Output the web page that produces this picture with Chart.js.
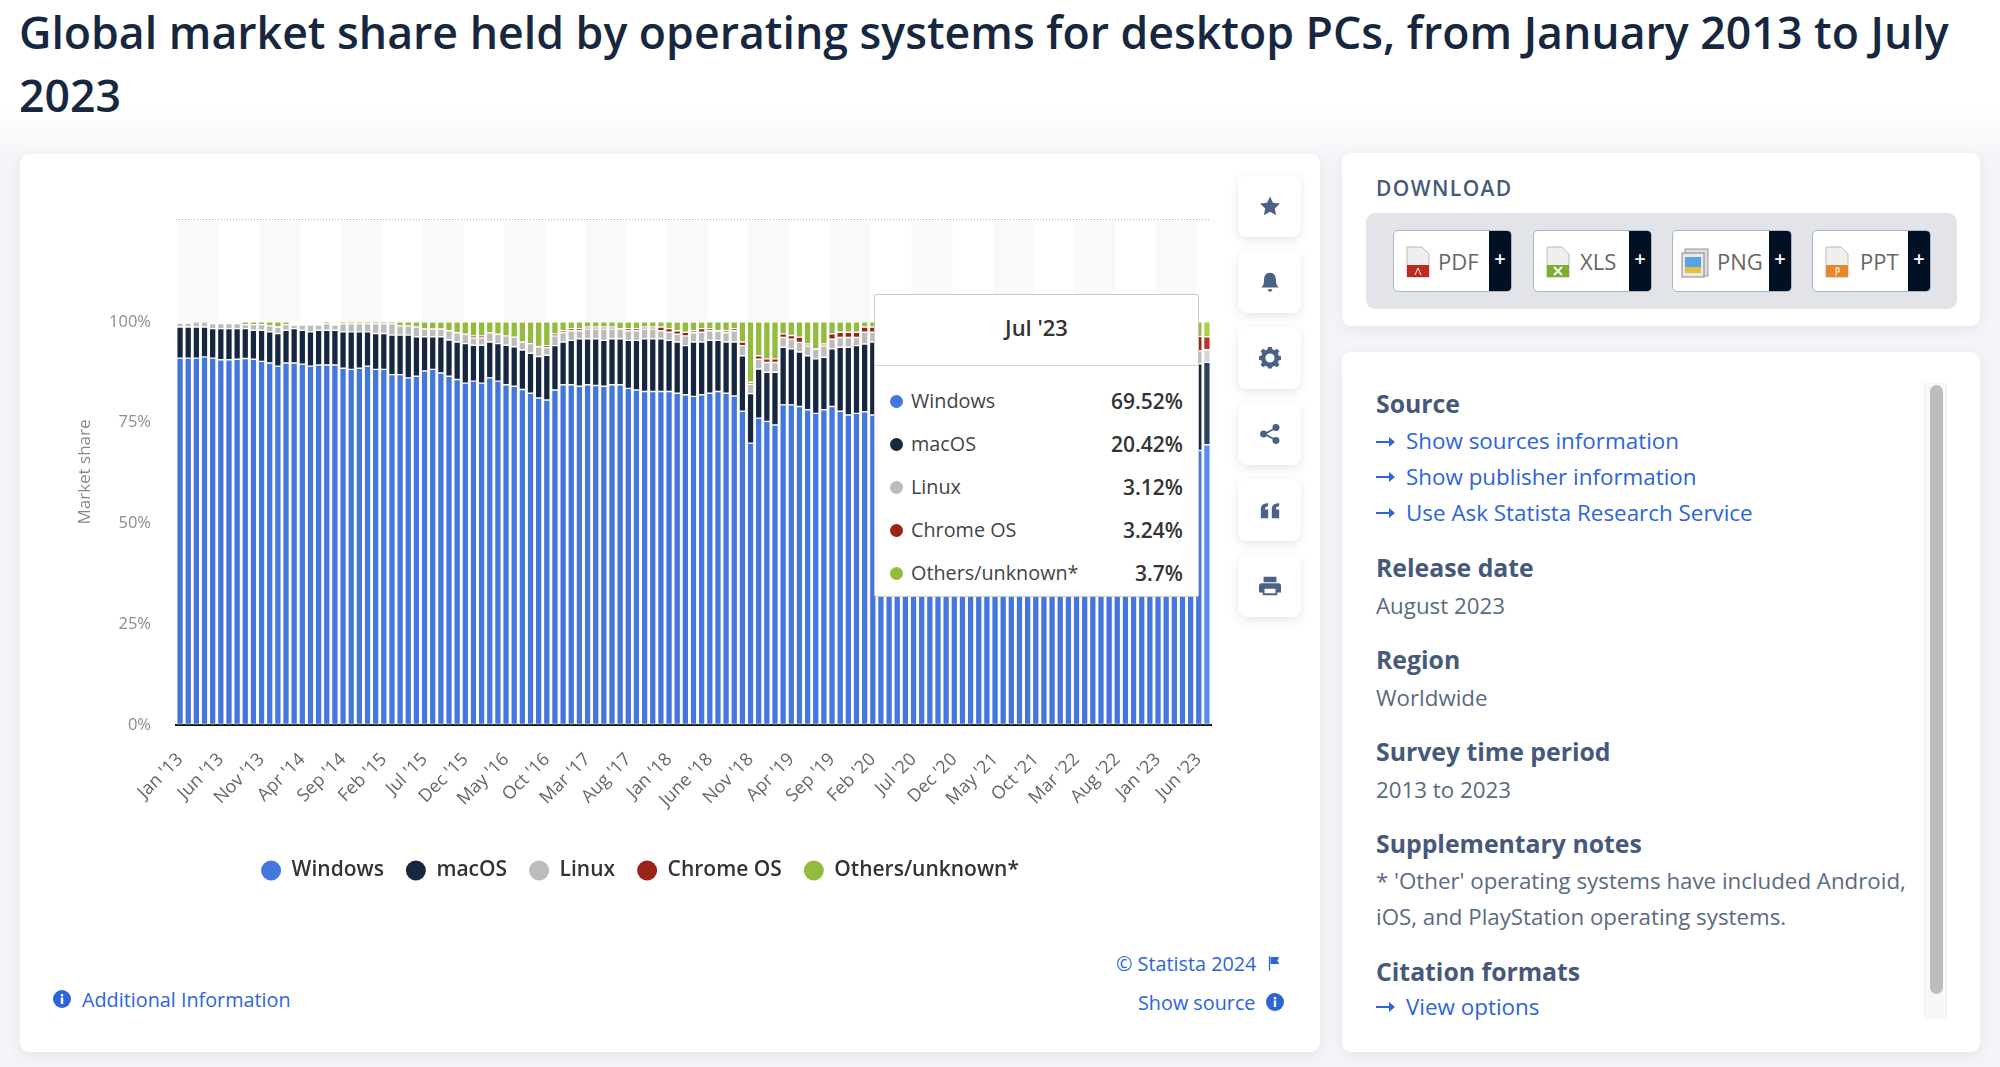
<!DOCTYPE html>
<html><head><meta charset="utf-8"><title>Desktop OS market share</title>
<script src="https://cdn.jsdelivr.net/npm/chart.js@4"></script>
<style>
*{box-sizing:border-box}
html,body{margin:0;padding:0;width:2000px;height:1067px;overflow:hidden;font-family:"Open Sans",sans-serif}
body{background:linear-gradient(#fff 0,#fff 105px,#f4f5f8 160px,#f4f5f8 100%);position:relative}
.abs{position:absolute}
h1{position:absolute;left:19px;margin:0;width:1970px;font-size:44.650px;line-height:62.500px;font-weight:600;color:#17273f;top:1px}
.card{position:absolute;background:#fff;border-radius:9px;box-shadow:0 4px 14px rgba(60,70,100,.08)}
.ib{position:absolute;left:1238px;width:63px;height:62px;background:#fff;border-radius:9px;box-shadow:0 3px 10px rgba(60,70,100,.13);display:flex;align-items:center;justify-content:center}
.ib svg{width:22px;height:22px;fill:#4a6285}
.t{position:absolute;white-space:nowrap;line-height:1}
.h{font-size:24.800px;font-weight:700;color:#46597a;left:1376px}
.b{font-size:22.300px;color:#5a6a82;left:1376px}
.l{font-size:22.400px;color:#2d64dc;left:1406px}
.ar{position:absolute;left:1376px;width:19px;height:12px}
.lk{font-size:19.800px;color:#2d64dc}
.btn{position:absolute;top:230px;height:62px;background:#fff;border:1.5px solid #a8b6cc;border-radius:5px;overflow:hidden}
.btn .d{position:absolute;right:0;top:0;bottom:0;width:22px;background:#021024;color:#fff;font-size:20px;font-weight:600;text-align:center;line-height:56px}
.btn .n{position:absolute;top:19px;font-size:22px;line-height:1;color:#666}
.btn svg{position:absolute;left:12px;top:15px;width:24px;height:32px}
#tip{position:absolute;left:874px;top:294px;width:325px;height:303px;background:#fff;border:1.5px solid #c9c9c9;border-radius:2px;color:#333}
#tip .tt{position:absolute;left:0;right:0;top:20px;text-align:center;font-size:22px;font-weight:600;line-height:1.1}
#tip .hr{position:absolute;left:0;right:0;top:70px;border-top:1.5px solid #d4d4d4}
</style></head><body>
<h1>Global market share held by operating systems for desktop PCs, from January 2013 to July 2023</h1>
<div class="card" style="left:20px;top:154px;width:1300px;height:898px"></div>
<div class="card" style="left:1342px;top:153px;width:638px;height:173px"></div>
<div class="card" style="left:1342px;top:352px;width:638px;height:700px"></div>
<div class="abs" id="cw" style="left:20px;top:154px;width:1240px;height:780px"><canvas id="c"></canvas></div>
<div id="tip"></div>

<div class="ib" style="top:175px"><svg viewBox="0 0 24 24"><path d="M12 1.5l3.2 7 7.6.9-5.6 5.2 1.5 7.6L12 18.4l-6.700 3.800 1.500-7.600L1.200 9.400l7.600-.9z"/></svg></div>
<div class="ib" style="top:251px"><svg viewBox="0 0 24 24"><path d="M12 2c4.500 0 6.500 3.500 6.500 8 0 4 1 6 3 8H2.500c2-2 3-4 3-8 0-4.500 2-8 6.500-8zM9.500 20h5c0 1.500-1 2.500-2.500 2.500S9.500 21.500 9.500 20z"/></svg></div>
<div class="ib" style="top:327px"><svg viewBox="0 0 24 24"><path fill-rule="evenodd" d="M10 1h4l.6 3 2.300 1 2.600-1.700 2.800 2.800L20.600 8.700l1 2.300 2.400.6v4l-2.400.4-1 2.300 1.700 2.600-2.800 2.800-2.600-1.700-2.300 1-.6 2H10l-.6-2-2.300-1-2.600 1.700-2.800-2.800 1.700-2.600-1-2.300L0 15.600v-4L2.400 11l1-2.300L1.700 6.100l2.800-2.800 2.600 1.700 2.300-1zM12 8.500a5 5 0 100 10 5 5 0 000-10z" transform="translate(0 -1.500)"/></svg></div>
<div class="ib" style="top:403px"><svg viewBox="0 0 24 24"><circle cx="18.500" cy="5" r="3.800"/><circle cx="5" cy="12" r="3.800"/><circle cx="18.500" cy="19" r="3.800"/><path d="M18 4.500L5 11.500v1L18 19.500v-2L8 12l10-5.500z"/></svg></div>
<div class="ib" style="top:479px"><svg viewBox="0 0 24 24"><path d="M2 21V11c0-4 2-6.500 8-6.500V8C7.500 8 6.500 9 6.500 11.500H10V21zM14 21V11c0-4 2-6.500 8-6.500V8c-2.500 0-3.500 1-3.500 3.500H22V21z"/></svg></div>
<div class="ib" style="top:555px"><svg viewBox="0 0 24 24"><path fill-rule="evenodd" d="M5 2h14v6H5zM3 9h18a3 3 0 013 3v7h-4v3H4v-3H0v-7a3 3 0 013-3zm3 6v5h12v-5z"/></svg></div>

<div class="t" style="left:1376px;top:178px;font-size:21px;letter-spacing:1.4px;color:#46597a;font-weight:600">DOWNLOAD</div>
<div class="abs" style="left:1366px;top:213px;width:591px;height:96px;background:#e2e4e9;border-radius:9px"></div>
<div class="btn" style="left:1393px;width:119px"><svg viewBox="0 0 24 32"><path d="M1 1h15l7 7v23H1z" fill="#efefef" stroke="#bbb"/><rect x="1" y="19" width="22" height="12" fill="#c0291f"/><path d="M9 29l3-7 3 7" stroke="#fff" fill="none"/></svg><div class="n" style="left:44px">PDF</div><div class="d">+</div></div>
<div class="btn" style="left:1533px;width:119px"><svg viewBox="0 0 24 32"><path d="M1 1h15l7 7v23H1z" fill="#efefef" stroke="#bbb"/><rect x="1" y="19" width="22" height="12" fill="#7dae2c"/><path d="M8 21l8 8M16 21l-8 8" stroke="#fff" stroke-width="2"/></svg><div class="n" style="left:46px">XLS</div><div class="d">+</div></div>
<div class="btn" style="left:1672px;width:120px"><svg viewBox="0 0 28 32" style="left:8px;width:28px"><rect x="4" y="3" width="23" height="27" fill="#ddd" stroke="#999"/><rect x="1" y="7" width="22" height="24" fill="#e8e8e8" stroke="#888"/><rect x="4" y="11" width="16" height="10" fill="#5aa2e6"/><rect x="4" y="21" width="16" height="6" fill="#e5bf4a"/></svg><div class="n" style="left:44px">PNG</div><div class="d">+</div></div>
<div class="btn" style="left:1812px;width:119px"><svg viewBox="0 0 24 32"><path d="M1 1h15l7 7v23H1z" fill="#efefef" stroke="#bbb"/><rect x="1" y="19" width="22" height="12" fill="#e8862c"/><path d="M11 30v-8h3v4h-3" stroke="#fff" fill="none"/></svg><div class="n" style="left:47px">PPT</div><div class="d">+</div></div>

<div class="t h" style="top:391px">Source</div>
<svg class="ar" style="top:436px" viewBox="0 0 19 12"><path d="M0 5h13V1l6 5-6 5V7H0z" fill="#2d64dc"/></svg><div class="t l" style="top:430px">Show sources information</div>
<svg class="ar" style="top:471px" viewBox="0 0 19 12"><path d="M0 5h13V1l6 5-6 5V7H0z" fill="#2d64dc"/></svg><div class="t l" style="top:466px">Show publisher information</div>
<svg class="ar" style="top:507px" viewBox="0 0 19 12"><path d="M0 5h13V1l6 5-6 5V7H0z" fill="#2d64dc"/></svg><div class="t l" style="top:502px">Use Ask Statista Research Service</div>
<div class="t h" style="top:555px">Release date</div><div class="t b" style="top:595px">August 2023</div>
<div class="t h" style="top:647px">Region</div><div class="t b" style="top:687px">Worldwide</div>
<div class="t h" style="top:739px">Survey time period</div><div class="t b" style="top:779px">2013 to 2023</div>
<div class="t h" style="top:831px">Supplementary notes</div><div class="t b" style="top:870px">* 'Other' operating systems have included Android,</div><div class="t b" style="top:906px">iOS, and PlayStation operating systems.</div>
<div class="t h" style="top:959px">Citation formats</div>
<svg class="ar" style="top:1001px" viewBox="0 0 19 12"><path d="M0 5h13V1l6 5-6 5V7H0z" fill="#2d64dc"/></svg><div class="t l" style="top:996px">View options</div>
<div class="abs" style="left:1924px;top:383px;width:23px;height:636px;background:#f8f8f8;border-left:1px solid #eee;border-right:1px solid #eee"></div>
<div class="abs" style="left:1930px;top:385px;width:13px;height:609px;background:#bdbdbd;border-radius:7px"></div>

<svg class="abs" style="left:53px;top:990px;width:18px;height:18px" viewBox="0 0 18 18"><circle cx="9" cy="9" r="9" fill="#2d64dc"/><rect x="7.800" y="7.500" width="2.400" height="6.500" fill="#fff"/><rect x="7.800" y="4" width="2.400" height="2.400" fill="#fff"/></svg>
<div class="t lk" style="left:82px;top:990px">Additional Information</div>
<div class="t lk" style="left:1116px;top:954px">© Statista 2024</div>
<svg class="abs" style="left:1268px;top:956px;width:12px;height:15px" viewBox="0 0 14 17"><path d="M1 0h1.500v17H1zM3 1h10l-2 4 2 4H3z" fill="#2d64dc"/></svg>
<div class="t lk" style="left:1138px;top:993px">Show source</div>
<svg class="abs" style="left:1266px;top:993px;width:18px;height:18px" viewBox="0 0 18 18"><circle cx="9" cy="9" r="9" fill="#2d64dc"/><rect x="7.800" y="7.500" width="2.400" height="6.500" fill="#fff"/><rect x="7.800" y="4" width="2.400" height="2.400" fill="#fff"/></svg>

<script>
const categories=[
"Jan '13","Feb '13","Mar '13","Apr '13","May '13","Jun '13","Jul '13","Aug '13","Sep '13","Oct '13","Nov '13","Dec '13",
"Jan '14","Feb '14","Mar '14","Apr '14","May '14","Jun '14","Jul '14","Aug '14","Sep '14","Oct '14","Nov '14","Dec '14",
"Jan '15","Feb '15","Mar '15","Apr '15","May '15","Jun '15","Jul '15","Aug '15","Sep '15","Oct '15","Nov '15","Dec '15",
"Jan '16","Feb '16","Mar '16","Apr '16","May '16","Jun '16","Jul '16","Aug '16","Sep '16","Oct '16","Nov '16","Dec '16",
"Jan '17","Feb '17","Mar '17","Apr '17","May '17","Jun '17","Jul '17","Aug '17","Sep '17","Oct '17","Nov '17","Dec '17",
"Jan '18","Feb '18","Mar '18","Apr '18","May '18","June '18","Jul '18","Aug '18","Sep '18","Oct '18","Nov '18","Dec '18",
"Jan '19","Feb '19","Mar '19","Apr '19","May '19","Jun '19","Jul '19","Aug '19","Sep '19","Oct '19","Nov '19","Dec '19",
"Jan '20","Feb '20","Mar '20","Apr '20","May '20","Jun '20","Jul '20","Aug '20","Sep '20","Oct '20","Nov '20","Dec '20",
"Jan '21","Feb '21","Mar '21","Apr '21","May '21","Jun '21","Jul '21","Aug '21","Sep '21","Oct '21","Nov '21","Dec '21",
"Jan '22","Feb '22","Mar '22","Apr '22","May '22","Jun '22","Jul '22","Aug '22","Sep '22","Oct '22","Nov '22","Dec '22",
"Jan '23","Feb '23","Mar '23","Apr '23","May '23","Jun '23","Jul '23"];
const windows=[91.0,91.0,91.0,91.3,91.0,90.6,90.6,90.7,90.9,90.7,
90.2,89.8,89.0,89.8,89.8,89.5,89.0,89.3,89.3,89.3,
88.5,88.2,88.5,89.0,88.2,88.2,86.9,86.9,86.1,86.5,
87.8,88.2,87.3,86.5,85.7,84.8,85.3,84.8,86.1,85.3,
84.4,84.0,83.2,82.3,81.1,80.6,
83.1,84.4,84.4,84.0,84.4,84.2,84.0,84.4,84.4,83.5,83.1,82.7,82.7,82.7,82.7,82.3,81.9,81.5,81.9,82.3,
82.7,82.3,81.6,77.8,69.9,76.1,75.3,74.4,79.4,79.4,79.0,78.2,77.3,78.2,79.0,77.8,76.9,77.3,77.7,76.9,
77.2,77.7,77.7,77.4,78.0,77.7,76.8,76.5,76.2,76.6,76.5,75.9,75.2,74.5,74.3,73.9,73.4,73.2,73.0,73.7,
74.5,75.2,75.5,75.6,75.3,74.9,74.7,74.5,74.1,73.9,73.4,72.9,72.4,71.7,71.0,70.6,70.3,69.9,69.2,68.1,69.52];
const macOS=[7.7,7.7,7.7,7.4,7.3,7.7,7.7,7.6,7.4,7.2,
7.7,7.7,8.1,8.1,8.5,8.4,8.5,8.6,8.6,8.6,
9.0,9.3,9.0,8.5,8.9,8.9,9.8,9.8,10.6,9.8,
8.5,8.1,9.0,9.0,9.3,9.8,8.9,9.4,8.9,9.3,
9.8,9.8,9.8,9.9,10.3,11.1,
11.0,10.6,11.0,11.8,11.4,11.6,11.4,11.4,11.4,11.9,12.3,13.1,13.1,13.1,12.7,12.7,12.2,13.5,13.1,13.1,
12.7,12.7,13.4,13.8,12.3,12.2,12.2,13.1,14.3,13.9,13.5,13.4,13.5,13.0,14.3,15.9,16.8,16.8,16.8,18.1,
16.0,15.8,15.6,15.7,15.4,15.6,16.3,16.4,16.6,16.3,16.4,16.9,17.5,17.9,18.1,18.3,18.7,18.8,18.9,18.3,
17.6,17.0,16.8,16.7,16.9,17.2,17.5,17.6,17.9,18.1,18.5,18.9,19.2,19.8,20.2,20.5,20.7,21.0,21.3,21.5,20.42];
const linux=[1.0,1.0,1.3,1.3,1.3,1.3,1.3,1.3,1.0,1.4,
1.4,1.5,1.6,1.4,0.9,1.3,1.7,1.3,1.6,1.3,
2.0,2.0,2.0,2.0,2.4,2.4,2.8,2.3,2.3,2.4,
1.9,1.9,1.9,2.3,2.3,2.3,1.8,1.8,2.3,2.3,
2.3,2.4,2.0,2.4,2.4,1.9,
2.4,2.3,2.4,2.0,2.4,2.4,2.8,2.4,2.4,2.4,2.4,2.4,2.4,2.0,2.0,1.9,2.4,2.3,2.4,2.4,
2.3,2.3,2.8,2.5,2.3,2.4,2.4,2.4,2.4,2.4,2.4,2.4,2.4,2.8,2.4,2.4,2.4,2.0,2.9,2.4,
2.4,2.2,2.3,2.4,2.3,2.4,2.3,2.4,2.4,2.3,2.4,2.4,2.5,2.4,2.5,2.5,2.6,2.5,2.6,2.6,
2.7,2.6,2.7,2.7,2.6,2.7,2.8,2.7,2.8,2.8,2.9,2.8,2.9,2.9,3.0,3.0,3.0,3.1,3.1,3.2,3.12];
const chromeOS=[0,0,0,0,0,0,0,0,0,0,0,0,0,0,0,0,0,0,0,0,
0,0,0,0,0,0,0,0,0,0,0,0,0,0,0,0,0.5,0.5,0,0,
0,0,0,0,0,0.5,
0.5,0.5,0.5,0.5,0.5,0.5,0.5,0.5,0.1,0.5,0.5,0.5,0.5,0.9,0.9,0.9,0.9,0.5,0.9,0.5,
0.1,0.5,0.5,0.9,0.5,0.9,0.9,0.9,0.9,0.9,1.3,0.5,0.1,0.5,1.3,1.3,1.3,1.3,1.3,1.3,
1.4,1.4,1.5,1.6,1.5,1.6,1.7,1.8,1.9,1.9,2.0,2.1,2.2,2.3,2.3,2.4,2.5,2.6,2.7,2.6,
2.5,2.4,2.4,2.3,2.4,2.4,2.5,2.6,2.6,2.7,2.8,2.8,2.9,3.0,3.1,3.1,3.2,3.2,3.3,3.6,3.24];
const others=[0,0,0,0,0,0,0,0,0.7,0.7,0.7,1.0,1.3,0.7,0,0,0,0,0.5,0,
0.5,0.5,0.5,0.5,0.5,0.5,0.5,1.0,1.0,1.3,1.8,1.8,1.8,2.2,2.7,3.1,3.5,3.5,2.7,3.1,
3.5,3.8,5.0,5.4,6.2,5.9,
3.0,2.2,1.7,1.7,1.3,1.3,1.3,1.3,1.7,1.7,1.7,1.3,1.3,1.3,1.7,2.2,2.6,2.2,1.7,1.7,
2.2,2.2,1.7,5.0,15.0,8.4,9.2,9.2,3.0,3.4,3.8,5.5,6.7,5.5,3.0,2.6,2.6,2.6,1.3,1.3,
3.0,2.9,2.9,2.9,2.8,2.7,2.9,2.9,2.9,2.9,2.7,2.7,2.6,2.9,2.8,2.9,2.8,2.9,2.8,2.8,
2.7,2.8,2.6,2.7,2.8,2.8,2.5,2.6,2.6,2.5,2.4,2.5,2.6,2.6,2.7,2.8,2.8,2.8,3.1,3.6,3.7];
const seriesNames=["Windows","macOS","Linux","Chrome OS","Others/unknown*"];
const seriesValues=[windows,macOS,linux,chromeOS,others];
const seriesColors=["#4477dd","#17273f","#bcbcbc","#9c2116","#93bb3c"];
const hoverColors=["#5a8cf0","#2c4260","#d6d6d6","#bd3427","#a8d04c"];
const yTicks=[0,25,50,75,100,125.5];
const yTop=125.5;

const tipEl=document.getElementById('tip');
const last=categories.length-1;
let html='<div class="tt">'+categories[last]+'</div><div class="hr"></div>';
const rowTop=[108,151,194,237,280];
seriesNames.forEach((n,i)=>{
  const v=seriesValues[i][last]+'%';
  html+='<div class="abs" style="left:14.500px;top:'+(rowTop[i]-6.500-2)+'px;width:13px;height:13px;border-radius:50%;background:'+seriesColors[i]+'"></div>'
  +'<div class="t" style="left:36px;top:'+(rowTop[i]-12)+'px;font-size:19.800px;color:#444">'+n+'</div>'
  +'<div class="t" style="right:15px;top:'+(rowTop[i]-12.500)+'px;font-size:21px;font-weight:600;color:#333">'+v+'</div>';
});
tipEl.innerHTML=html;

const bands={id:'bands',beforeDatasetsDraw(c){
  const x=c.scales.x,y=c.scales.y,g=c.ctx;
  const top=y.getPixelForValue(125), bot=y.getPixelForValue(100);
  g.save();g.fillStyle='#f9f9f9';
  for(let i=0;i<categories.length;i+=10){
    const a=x.getPixelForValue(i)-2;
    const b=Math.min(x.getPixelForValue(Math.min(i+5,last))-2,c.chartArea.right);
    g.fillRect(a,top,b-a,bot-top);
  }
  g.restore();
}};
new Chart(document.getElementById('c'),{
  type:'bar',
  data:{labels:categories,datasets:seriesNames.map((n,i)=>({
    label:n,data:seriesValues[i],
    backgroundColor:ctx=>ctx.dataIndex===last?hoverColors[i]:seriesColors[i],
    borderColor:'#fff',borderWidth:0.7,borderSkipped:false,
    categoryPercentage:1,barPercentage:0.82
  }))},
  plugins:[bands],
  options:{
    responsive:true,maintainAspectRatio:false,animation:false,devicePixelRatio:1,
    events:[],
    layout:{padding:{top:65,right:49,left:49,bottom:43}},
    plugins:{
      tooltip:{enabled:false},
      legend:{position:'bottom',labels:{
        usePointStyle:true,pointStyle:'circle',pointStyleWidth:20,boxHeight:14,padding:22,
        color:'#333',font:{family:'"Open Sans"',size:21,weight:'600'},
        generateLabels:c=>seriesNames.map((n,i)=>({text:n,fillStyle:seriesColors[i],strokeStyle:seriesColors[i],lineWidth:0,pointStyle:'circle',datasetIndex:i,fontColor:'#333'}))
      }}
    },
    scales:{
      x:{stacked:true,
        afterFit:s=>{s.height=113},
        grid:{display:false},border:{display:true,color:'#111',width:2},
        ticks:{autoSkip:false,minRotation:45,maxRotation:45,padding:16,color:'#666',font:{family:'"Open Sans"',size:18},
          callback(v,i){return i%5===0&&i<last?categories[i]:''}}
      },
      y:{stacked:true,min:0,max:yTop,
        afterFit:s=>{s.width=107},
        afterBuildTicks:s=>{s.ticks=yTicks.map(v=>({value:v}))},
        border:{display:false,dash:[1,2]},
        grid:{drawTicks:false,color:c=>c.tick&&c.tick.value===yTop?'#b5b5b5':'rgba(0,0,0,0)',lineWidth:1},
        ticks:{padding:25,color:'#8c8c8c',font:{family:'"Open Sans"',size:16.500},
          callback:v=>v<=100?v+'%':''},
        title:{display:true,text:'Market share',color:'#888',font:{family:'"Open Sans"',size:17},padding:{top:6,bottom:4}}
      }
    }
  }
});
</script>
</body></html>
